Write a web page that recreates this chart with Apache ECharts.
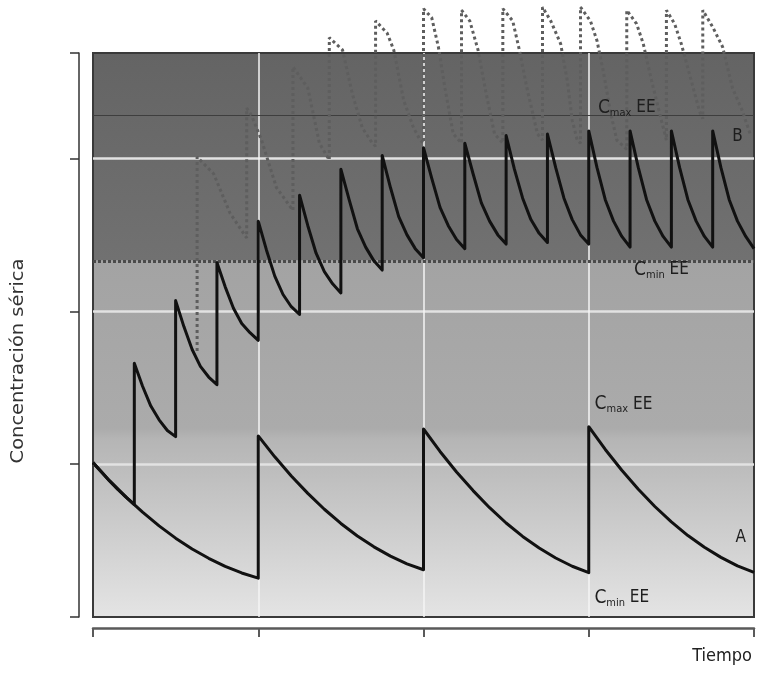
<!DOCTYPE html>
<html><head><meta charset="utf-8">
<script src="https://cdn.jsdelivr.net/npm/echarts@6/dist/echarts.min.js"></script>
<style>html,body{margin:0;padding:0;background:#fff}#c{width:760px;height:674px}</style>
</head><body><div id="c"></div>
<script>
// ---- data (time in dosing units, concentration in tick units) ----
const yMax = 3.69;
const cmaxB = 3.28;   // Cmax EE of regimen B
const cminB = 2.33;   // Cmin EE of regimen B

// Regimen A (one dose per unit)
const tA = [0,0.1,0.2,0.3,0.4,0.5,0.6,0.7,0.8,0.9,1.0,
            1.0,1.1,1.2,1.3,1.4,1.5,1.6,1.7,1.8,1.9,2.0,
            2.0,2.1,2.2,2.3,2.4,2.5,2.6,2.7,2.8,2.9,3.0,
            3.0,3.1,3.2,3.3,3.4,3.5,3.6,3.7,3.8,3.9,4.0];
const cA = [1.01,0.892,0.784,0.686,0.596,0.516,0.445,0.384,0.331,0.288,0.254,
            1.185,1.048,0.923,0.809,0.705,0.612,0.530,0.459,0.398,0.348,0.309,
            1.23,1.083,0.949,0.827,0.715,0.615,0.527,0.451,0.386,0.332,0.29,
            1.245,1.096,0.960,0.836,0.723,0.622,0.533,0.456,0.390,0.335,0.292];

// Regimen B (dose every quarter unit)
const tB = [0,0.05,0.1,0.15,0.2,0.25,
            0.25,0.30,0.35,0.40,0.45,0.5,
            0.5,0.55,0.60,0.65,0.70,0.75,
            0.75,0.80,0.85,0.90,0.95,1.0,
            1.0,1.05,1.10,1.15,1.20,1.25,
            1.25,1.30,1.35,1.40,1.45,1.5,
            1.5,1.55,1.60,1.65,1.70,1.75,
            1.75,1.80,1.85,1.90,1.95,2.0,
            2.0,2.05,2.10,2.15,2.20,2.25,
            2.25,2.30,2.35,2.40,2.45,2.5,
            2.5,2.55,2.60,2.65,2.70,2.75,
            2.75,2.80,2.85,2.90,2.95,3.0,
            3.0,3.05,3.10,3.15,3.20,3.25,
            3.25,3.30,3.35,3.40,3.45,3.5,
            3.5,3.55,3.60,3.65,3.70,3.75,
            3.75,3.80,3.85,3.90,3.95,4.0];
const cB = [1.01,0.95,0.89,0.835,0.784,0.735,
            1.66,1.51,1.38,1.29,1.22,1.18,
            2.07,1.90,1.75,1.64,1.57,1.52,
            2.32,2.16,2.02,1.92,1.86,1.81,
            2.59,2.40,2.23,2.11,2.03,1.98,
            2.76,2.56,2.38,2.26,2.18,2.12,
            2.93,2.73,2.54,2.42,2.33,2.27,
            3.02,2.81,2.62,2.50,2.41,2.35,
            3.07,2.87,2.68,2.56,2.47,2.41,
            3.10,2.90,2.71,2.59,2.50,2.44,
            3.15,2.93,2.74,2.60,2.51,2.45,
            3.16,2.94,2.74,2.60,2.50,2.44,
            3.18,2.94,2.73,2.59,2.49,2.42,
            3.18,2.94,2.73,2.59,2.49,2.42,
            3.18,2.94,2.73,2.59,2.49,2.42,
            3.18,2.94,2.73,2.59,2.49,2.41];

// Dotted regimen (rises above the plot)
const tC = [0.63,0.63,0.73,0.83,0.93,
            0.93,0.96,1.02,1.11,1.21,
            1.21,1.30,1.37,1.43,
            1.43,1.51,1.57,1.63,1.69,1.71,
            1.71,1.78,1.82,1.88,1.94,1.98,2.0,
            2.0,2.05,2.09,2.13,2.18,2.23,
            2.23,2.28,2.33,2.38,2.43,2.48,
            2.48,2.54,2.58,2.63,2.69,2.72,
            2.72,2.77,2.83,2.87,2.90,2.93,2.95,
            2.95,3.01,3.05,3.09,3.13,3.17,3.23,
            3.23,3.29,3.33,3.38,3.43,3.47,
            3.47,3.52,3.56,3.62,3.67,3.69,
            3.69,3.75,3.81,3.87,3.93,3.98];
const cC = [1.74,3.01,2.90,2.64,2.48,
            3.33,3.28,3.12,2.81,2.66,
            3.60,3.46,3.10,2.99,
            3.79,3.71,3.42,3.20,3.10,3.08,
            3.90,3.82,3.71,3.38,3.20,3.12,3.10,
            3.98,3.92,3.73,3.46,3.16,3.10,
            3.97,3.90,3.71,3.42,3.16,3.10,
            3.98,3.90,3.71,3.44,3.16,3.12,
            3.99,3.90,3.75,3.51,3.25,3.12,3.10,
            3.99,3.90,3.77,3.56,3.31,3.12,3.06,
            3.97,3.88,3.75,3.51,3.29,3.12,
            3.97,3.88,3.75,3.51,3.31,3.26,
            3.97,3.86,3.73,3.46,3.31,3.15];

// Annotation anchors
const labelText = ['Cmax EE','B','Cmin EE','Cmax EE','A','Cmin EE'];
const labelT = [3.23,3.90,3.44,3.21,3.92,3.20];
const labelC = [3.33,3.14,2.27,1.39,0.52,0.125];

// ---- chart ----
const zip = (t, c) => t.map((v, i) => [v, c[i]]);
const FONT = "'Liberation Sans Narrow','DejaVu Sans Condensed','Liberation Sans',sans-serif";

function fmtLabel(s) {
  const m = s.match(/^C(max|min) (.*)$/);
  if (m) return '{c|C}{s|' + m[1] + '}{e| ' + m[2] + '}';
  return '{e|' + s + '}';
}

const chart = echarts.init(document.getElementById('c'), null, {renderer: 'canvas'});
chart.setOption({
  animation: false,
  backgroundColor: '#ffffff',
  grid: {left: 93, right: 6, top: 53, bottom: 57, show: true,
         borderColor: '#3a3a3a', borderWidth: 2, backgroundColor: 'transparent'},
  xAxis: {
    type: 'value', min: 0, max: 4, interval: 1, offset: 11,
    axisLine: {show: true, onZero: false, lineStyle: {color: '#5a5a5a', width: 2.5}},
    axisTick: {show: true, inside: false, length: 9, lineStyle: {color: '#5a5a5a', width: 2}},
    axisLabel: {show: false},
    splitLine: {show: true, showMinLine: false, showMaxLine: false,
                lineStyle: {color: '#f4f4f4', width: 1.5}}
  },
  yAxis: {
    type: 'value', min: 0, max: yMax, interval: 1, offset: 14,
    axisLine: {show: true, onZero: false, lineStyle: {color: '#333', width: 1.5}},
    axisTick: {show: true, inside: false, length: 9, lineStyle: {color: '#333', width: 1.5}},
    axisLabel: {show: false},
    splitLine: {show: true, showMinLine: false, showMaxLine: false,
                lineStyle: {color: '#e2e2e2', width: 2.5}}
  },
  graphic: [
    {type: 'text', x: 18, y: 361, rotation: Math.PI / 2, scaleX: 1.2,
     style: {text: 'Concentración sérica', fill: '#333', font: '18px ' + FONT,
             align: 'center', verticalAlign: 'middle'}},
    {type: 'text', x: 752, y: 656,
     style: {text: 'Tiempo', fill: '#222', font: '18px ' + FONT,
             align: 'right', verticalAlign: 'middle'}}
  ],
  series: [
    {
      name: 'bg', type: 'line', data: [], silent: true,
      markArea: {
        z: -1, silent: true,
        data: [
          [{yAxis: cminB, itemStyle: {color: {type: 'linear', x: 0, y: 0, x2: 0, y2: 1,
              colorStops: [{offset: 0, color: '#646464'}, {offset: 1, color: '#717171'}]}}},
           {yAxis: yMax}],
          [{yAxis: 0, itemStyle: {color: {type: 'linear', x: 0, y: 0, x2: 0, y2: 1,
              colorStops: [{offset: 0, color: '#a3a3a3'}, {offset: 0.47, color: '#ababab'},
                           {offset: 0.5, color: '#b5b5b5'}, {offset: 1, color: '#e4e4e4'}]}}},
           {yAxis: cminB}]
        ]
      },
      markLine: {
        z: 1, silent: true, symbol: 'none', label: {show: false},
        data: [
          {yAxis: cmaxB, lineStyle: {color: '#3e3e3e', width: 1, type: 'solid'}},
          {yAxis: cminB, lineStyle: {color: '#4a4a4a', width: 3, type: [3, 2]}}
        ]
      },
      markPoint: {
        z: 6, silent: true, symbol: 'rect', symbolSize: 1,
        itemStyle: {color: 'transparent'},
        label: {
          show: true, position: 'inside', color: '#1e1e1e', fontFamily: FONT,
          formatter: p => fmtLabel(p.name),
          rich: {
            c: {fontSize: 19, fontFamily: FONT, color: '#1e1e1e'},
            s: {fontSize: 11, fontFamily: FONT, color: '#1e1e1e', padding: [10, 0, 0, 0]},
            e: {fontSize: 17, fontFamily: FONT, color: '#1e1e1e'}
          }
        },
        data: labelText.map((s, i) => ({name: s, coord: [labelT[i], labelC[i]]}))
      }
    },
    {
      name: 'C', type: 'line', data: zip(tC, cC), showSymbol: false, clip: false,
      lineStyle: {color: '#5e5e5e', width: 3, type: [3, 3]}, z: 2
    },
    {
      name: 'B', type: 'line', data: zip(tB, cB), showSymbol: false,
      lineStyle: {color: '#111', width: 3, join: 'round'}, z: 3
    },
    {
      name: 'A', type: 'line', data: zip(tA, cA), showSymbol: false,
      lineStyle: {color: '#111', width: 3, join: 'round'}, z: 3
    }
  ]
});
</script>
</body></html>
